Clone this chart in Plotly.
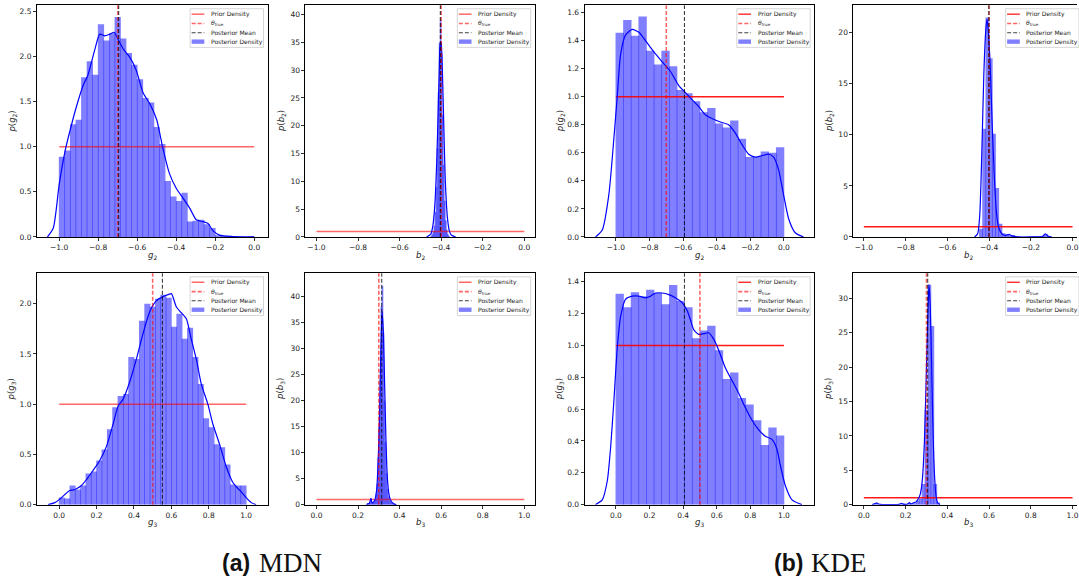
import numpy as np
import plotly.graph_objects as go

W, H = 1079, 583

# ---------------- data ----------------
# parameter order: g2, b2, g3, b3
theta_true = [-0.70, -0.40, 0.50, 0.30]
mdn_post_mean = [-0.695, -0.404, 0.552, 0.314]
kde_post_mean = [-0.592, -0.401, 0.408, 0.306]
prior_low = [-1.0, -1.0, 0.0, 0.0]
prior_high = [0.0, 0.0, 1.0, 1.0]
prior_density = 1.0

# histogram: (first edge, last edge, number of bins) and densities
mdn_g2_bins = (-1.0, 0.0, 35)
mdn_g2_hist = [0.89, 0.96, 1.25, 1.30, 1.77, 1.95, 1.80, 2.36, 2.18, 2.26, 2.44, 2.20, 2.04, 1.91,
               1.75, 1.54, 1.49, 1.22, 1.03, 0.62, 0.45, 0.40, 0.49, 0.17, 0.18, 0.19, 0.14, 0.10,
               0.02, 0.01, 0.01, 0.005, 0.005, 0.0, 0.005]
mdn_g2_kde_x = [-1.06, -1.03, -1.0, -0.97, -0.942, -0.911, -0.877, -0.852, -0.817, -0.792, -0.766,
                -0.74, -0.718, -0.695, -0.67, -0.64, -0.605, -0.57, -0.536, -0.5, -0.468, -0.434,
                -0.4, -0.365, -0.331, -0.297, -0.263, -0.237, -0.212, -0.178, -0.11, 0.0]
mdn_g2_kde_y = [0.0, 0.1, 0.58, 0.95, 1.2, 1.45, 1.68, 1.80, 2.08, 2.25, 2.23, 2.25, 2.27, 2.18, 2.08,
                2.0, 1.85, 1.6, 1.48, 1.3, 0.98, 0.7, 0.54, 0.43, 0.32, 0.19, 0.17, 0.15, 0.07, 0.02,
                0.005, 0.0]

mdn_b2_bins = (-0.45, -0.36, 18)
mdn_b2_hist = [0.2, 0.5, 1.0, 2.0, 4.5, 9, 16, 26, 35, 39, 33, 22, 13, 6.5, 3, 1.3, 0.5, 0.2]
mdn_b2_kde_x = [-0.47, -0.45, -0.44, -0.43, -0.42, -0.415, -0.41, -0.405, -0.40, -0.395, -0.39,
                -0.385, -0.38, -0.37, -0.36, -0.35, -0.33]
mdn_b2_kde_y = [0, 0.5, 2.0, 6.0, 15, 22, 29, 34.5, 35, 31, 24, 16.5, 10, 3.5, 1.0, 0.3, 0]

kde_g2_bins = (-1.0, 0.0, 22)
kde_g2_hist = [1.456, 1.548, 1.435, 1.572, 1.329, 1.23, 1.329, 1.218, 1.049, 1.025, 0.968, 0.89,
               0.92, 0.81, 0.78, 0.83, 0.70, 0.57, 0.57, 0.61, 0.60, 0.64]
kde_g2_kde_x = [-1.121, -1.081, -1.042, -1.012, -0.992, -0.972, -0.943, -0.903, -0.863, -0.824,
                -0.774, -0.725, -0.675, -0.626, -0.586, -0.547, -0.507, -0.467, -0.428, -0.378,
                -0.329, -0.289, -0.25, -0.21, -0.17, -0.131, -0.091, -0.061, -0.032, -0.002,
                0.028, 0.067, 0.117]
kde_g2_kde_y = [0, 0.05, 0.3, 0.7, 1.0, 1.3, 1.44, 1.48, 1.46, 1.40, 1.32, 1.25, 1.18, 1.08, 1.03,
                0.98, 0.93, 0.87, 0.845, 0.82, 0.80, 0.74, 0.66, 0.59, 0.57, 0.58, 0.59, 0.57,
                0.48, 0.30, 0.13, 0.03, 0]

kde_b2_bins = (-0.4465, -0.1055, 22)
kde_b2_hist = [0.8, 10.6, 21.5, 17.5, 10.1, 4.8, 1.3, 0.35, 0.25, 0.15, 0.2, 0.1, 0.05, 0.03, 0.03,
               0.03, 0.03, 0.03, 0.05, 0.1, 0.25, 0.1]
kde_b2_kde_x = [-0.47, -0.455, -0.445, -0.435, -0.425, -0.415, -0.41, -0.405, -0.395, -0.385,
                -0.375, -0.365, -0.355, -0.345, -0.335, -0.32, -0.305, -0.29, -0.27, -0.2,
                -0.145, -0.13, -0.115, -0.1]
kde_b2_kde_y = [0, 0.3, 2, 8, 16, 20.5, 21.3, 20.5, 17, 11, 6, 2.5, 1.0, 0.5, 0.25, 0.15, 0.25,
                0.1, 0.02, 0.0, 0.05, 0.3, 0.05, 0]

mdn_g3_bins = (0.0, 1.0, 35)
mdn_g3_hist = [0.07, 0.06, 0.19, 0.15, 0.19, 0.31, 0.33, 0.44, 0.55, 0.75, 0.97, 1.08, 1.10, 1.47,
               1.45, 1.83, 2.00, 1.97, 2.05, 2.09, 2.06, 1.77, 1.90, 1.65, 1.76, 1.47, 1.20, 0.86,
               0.77, 0.60, 0.57, 0.40, 0.20, 0.19, 0.19]
mdn_g3_kde_x = [-0.059, -0.023, 0.0, 0.03, 0.057, 0.084, 0.119, 0.146, 0.181, 0.217, 0.253, 0.288,
                0.315, 0.342, 0.377, 0.413, 0.448, 0.484, 0.52, 0.555, 0.582, 0.6, 0.626, 0.653,
                0.68, 0.706, 0.733, 0.76, 0.795, 0.822, 0.858, 0.893, 0.929, 0.956, 0.973, 1.0,
                1.027, 1.053]
mdn_g3_kde_y = [0, 0.02, 0.05, 0.10, 0.14, 0.15, 0.19, 0.25, 0.34, 0.44, 0.58, 0.80, 0.98, 1.05,
                1.22, 1.45, 1.70, 1.92, 2.03, 2.07, 2.09, 2.10, 1.97, 1.91, 1.85, 1.65, 1.45, 1.20,
                1.0, 0.80, 0.60, 0.38, 0.22, 0.16, 0.13, 0.07, 0.02, 0]

mdn_b3_bins = (0.245, 0.38, 27)
mdn_b3_hist = [0.3, 0.2, 0.4, 1.2, 0.3, 0.4, 0.6, 1.0, 2.0, 4.0, 9, 15, 24, 38, 42, 33, 20, 12, 6,
               3, 1.5, 0.8, 0.5, 0.3, 0.2, 0.1, 0.1]
mdn_b3_kde_x = [0.24, 0.255, 0.262, 0.268, 0.28, 0.29, 0.30, 0.305, 0.31, 0.316, 0.322, 0.328,
                0.334, 0.34, 0.347, 0.355, 0.365, 0.375, 0.385]
mdn_b3_kde_y = [0, 0.3, 1.2, 0.3, 0.8, 3, 12, 20, 30, 37, 33, 23, 13, 6, 2.5, 1, 0.4, 0.1, 0]

kde_g3_bins = (0.0, 1.0, 22)
kde_g3_hist = [1.325, 1.24, 1.335, 1.31, 1.35, 1.33, 1.26, 1.38, 1.28, 1.24, 1.045, 1.095, 1.125,
               0.97, 0.79, 0.83, 0.67, 0.63, 0.53, 0.375, 0.485, 0.435]
kde_g3_kde_x = [-0.121, -0.081, -0.051, -0.032, -0.012, 0.008, 0.028, 0.057, 0.097, 0.137, 0.176,
                0.206, 0.236, 0.275, 0.315, 0.354, 0.394, 0.424, 0.444, 0.463, 0.493, 0.523,
                0.552, 0.582, 0.612, 0.651, 0.691, 0.731, 0.770, 0.810, 0.850, 0.889, 0.929,
                0.958, 0.978, 1.008, 1.048, 1.107]
kde_g3_kde_y = [0, 0.03, 0.15, 0.35, 0.65, 0.98, 1.18, 1.29, 1.31, 1.31, 1.30, 1.31, 1.33, 1.33,
                1.32, 1.30, 1.27, 1.22, 1.16, 1.10, 1.07, 1.075, 1.08, 1.04, 0.97, 0.86, 0.78,
                0.70, 0.61, 0.53, 0.47, 0.43, 0.41, 0.35, 0.25, 0.12, 0.03, 0]

kde_b3_bins = (0.0534, 0.3636, 22)
kde_b3_hist = [0.2, 0.03, 0.03, 0.03, 0.03, 0.03, 0.03, 0.03, 0.03, 0.15, 0.05, 0.15, 0.1, 0.2,
               0.6, 0.9, 3.0, 13.8, 32, 26, 3.0, 0.3]
kde_b3_kde_x = [0.04, 0.055, 0.062, 0.07, 0.09, 0.17, 0.18, 0.19, 0.21, 0.218, 0.226, 0.24, 0.25,
                0.26, 0.27, 0.28, 0.29, 0.30, 0.307, 0.312, 0.318, 0.325, 0.332, 0.34, 0.347,
                0.355, 0.365]
kde_b3_kde_y = [0, 0.15, 0.25, 0.1, 0.02, 0.05, 0.2, 0.05, 0.1, 0.3, 0.1, 0.3, 0.4, 0.8, 1.5, 3.5,
                9, 20, 28, 32, 29, 20, 10, 3.5, 1.0, 0.2, 0]

# tick labels
xt_neg = [-1.0, -0.8, -0.6, -0.4, -0.2, 0.0]
xt_neg_text = ["\u22121.0", "\u22120.8", "\u22120.6", "\u22120.4", "\u22120.2", "0.0"]
xt_pos = [0.0, 0.2, 0.4, 0.6, 0.8, 1.0]
xt_pos_text = ["0.0", "0.2", "0.4", "0.6", "0.8", "1.0"]
yt_mdn_g2 = [0.0, 0.5, 1.0, 1.5, 2.0, 2.5]
yt_mdn_g3 = [0.0, 0.5, 1.0, 1.5, 2.0]
yt_kde_g2 = [0.0, 0.2, 0.4, 0.6, 0.8, 1.0, 1.2, 1.4, 1.6]
yt_kde_g3 = [0.0, 0.2, 0.4, 0.6, 0.8, 1.0, 1.2, 1.4]
yt_b_40 = [0, 5, 10, 15, 20, 25, 30, 35, 40]
yt_b_20 = [0, 5, 10, 15, 20]
yt_b_30 = [0, 5, 10, 15, 20, 25, 30]

captions = [("(a)", "MDN"), ("(b)", "KDE")]

# ---------------- layout geometry (pixels) ----------------
col_left = [37, 306, 585.7, 855]
col_right = [268, 535.7, 815.7, 1085]
row_top = [5.3, 275.7]
row_bottom = [239, 509]

def fmt1(v):
    return f"{v:.1f}"

panels = [
    dict(r=0, c=0, h=mdn_g2_hist, b=mdn_g2_bins, kx=mdn_g2_kde_x, ky=mdn_g2_kde_y, p=0, m="mdn",
         xr=[-1.114, 0.068], yr=[0, 2.570], xt=xt_neg, xtt=xt_neg_text, yt=yt_mdn_g2, yf=fmt1, s="g", n="2"),
    dict(r=0, c=1, h=mdn_b2_hist, b=mdn_b2_bins, kx=mdn_b2_kde_x, ky=mdn_b2_kde_y, p=1, m="mdn",
         xr=[-1.053, 0.05], yr=[0, 41.68], xt=xt_neg, xtt=xt_neg_text, yt=yt_b_40, yf=str, s="b", n="2"),
    dict(r=0, c=2, h=kde_g2_hist, b=kde_g2_bins, kx=kde_g2_kde_x, ky=kde_g2_kde_y, p=0, m="kde",
         xr=[-1.186, 0.18], yr=[0, 1.6527], xt=xt_neg, xtt=xt_neg_text, yt=yt_kde_g2, yf=fmt1, s="g", n="2"),
    dict(r=0, c=3, h=kde_b2_hist, b=kde_b2_bins, kx=kde_b2_kde_x, ky=kde_b2_kde_y, p=1, m="kde",
         xr=[-1.05, 0.05], yr=[0, 22.69], xt=xt_neg, xtt=xt_neg_text, yt=yt_b_20, yf=str, s="b", n="2"),
    dict(r=1, c=0, h=mdn_g3_hist, b=mdn_g3_bins, kx=mdn_g3_kde_x, ky=mdn_g3_kde_y, p=2, m="mdn",
         xr=[-0.119, 1.114], yr=[0, 2.302], xt=xt_pos, xtt=xt_pos_text, yt=yt_mdn_g3, yf=fmt1, s="g", n="3"),
    dict(r=1, c=1, h=mdn_b3_hist, b=mdn_b3_bins, kx=mdn_b3_kde_x, ky=mdn_b3_kde_y, p=3, m="mdn",
         xr=[-0.053, 1.05], yr=[0, 44.37], xt=xt_pos, xtt=xt_pos_text, yt=yt_b_40, yf=str, s="b", n="3"),
    dict(r=1, c=2, h=kde_g3_hist, b=kde_g3_bins, kx=kde_g3_kde_x, ky=kde_g3_kde_y, p=2, m="kde",
         xr=[-0.186, 1.18], yr=[0, 1.4536], xt=xt_pos, xtt=xt_pos_text, yt=yt_kde_g3, yf=fmt1, s="g", n="3"),
    dict(r=1, c=3, h=kde_b3_hist, b=kde_b3_bins, kx=kde_b3_kde_x, ky=kde_b3_kde_y, p=3, m="kde",
         xr=[-0.05, 1.05], yr=[0, 33.65], xt=xt_pos, xtt=xt_pos_text, yt=yt_b_30, yf=str, s="b", n="3"),
]

PRIOR_STYLE = {"mdn": dict(color="rgba(255,0,0,0.6)", width=1.5),
               "kde": dict(color="rgba(255,0,0,0.9)", width=1.3)}
THETA_STYLE = dict(color="rgba(255,0,0,0.6)", width=1.6, dash="4px,2px")
MEAN_STYLE = dict(color="rgba(0,0,0,0.75)", width=1.1, dash="4px,2px")
BAR_COL = "rgba(0,0,255,0.5)"
KDE_COL = "#0000ff"
TICK_FONT = dict(family="DejaVu Sans", size=7.5, color="#222222")

def px2x(px):
    return px / W

def py2y(py):
    return 1 - py / H

fig = go.Figure()
layout = dict(width=W, height=H, margin=dict(l=0, r=0, t=0, b=0), autosize=False,
              paper_bgcolor="white", plot_bgcolor="white", barmode="overlay", showlegend=False,
              hovermode=False)
shapes = []
annotations = []

for k, P in enumerate(panels):
    idx = k + 1
    xid = "x" if idx == 1 else f"x{idx}"
    yid = "y" if idx == 1 else f"y{idx}"
    L, R = col_left[P["c"]], col_right[P["c"]]
    T, B = row_top[P["r"]], row_bottom[P["r"]]
    px_per_unit = (R - L) / (P["xr"][1] - P["xr"][0])
    Rvis = min(R, W)
    xr = [P["xr"][0], P["xr"][0] + (Rvis - L) / px_per_unit]
    clipped = R > W

    layout["xaxis" if idx == 1 else f"xaxis{idx}"] = dict(
        domain=[L / W, Rvis / W], range=xr, anchor=yid, showline=True, linecolor="black",
        linewidth=1, mirror=True, ticks="outside", ticklen=3, tickwidth=0.8, tickcolor="black",
        tickvals=P["xt"], ticktext=P["xtt"], tickfont=TICK_FONT, showgrid=False, zeroline=False,
        ticklabeloverflow="allow", fixedrange=True)
    layout["yaxis" if idx == 1 else f"yaxis{idx}"] = dict(
        domain=[py2y(B), py2y(T)], range=P["yr"], anchor=xid, showline=True, linecolor="black",
        linewidth=1, mirror=(not clipped), ticks="outside", ticklen=3, tickwidth=0.8,
        tickcolor="black", tickvals=P["yt"], ticktext=[P["yf"](v) for v in P["yt"]],
        tickfont=TICK_FONT, showgrid=False, zeroline=False, fixedrange=True)

    lo, hi, nb = P["b"]
    bw = (hi - lo) / nb
    centers = lo + bw * (np.arange(nb) + 0.5)
    fig.add_trace(go.Bar(x=centers, y=P["h"], width=[bw + 0.7 / px_per_unit] * nb,
                         marker=dict(color=BAR_COL, line=dict(width=0)),
                         xaxis=xid, yaxis=yid, hoverinfo="skip"))
    p = P["p"]
    fig.add_trace(go.Scatter(x=[prior_low[p], prior_high[p]], y=[prior_density, prior_density],
                             mode="lines", line=PRIOR_STYLE[P["m"]],
                             xaxis=xid, yaxis=yid, hoverinfo="skip"))
    fig.add_trace(go.Scatter(x=P["kx"], y=P["ky"], mode="lines",
                             line=dict(color=KDE_COL, width=1.2, shape="spline", smoothing=0.6),
                             xaxis=xid, yaxis=yid, hoverinfo="skip"))
    mean_v = mdn_post_mean[p] if P["m"] == "mdn" else kde_post_mean[p]
    shapes.append(dict(type="line", xref=xid, yref=f"{yid} domain", x0=theta_true[p], x1=theta_true[p],
                       y0=0, y1=1, line=THETA_STYLE, layer="above"))
    shapes.append(dict(type="line", xref=xid, yref=f"{yid} domain", x0=mean_v, x1=mean_v,
                       y0=0, y1=1, line=MEAN_STYLE, layer="above"))

    # axis titles
    sym, sub = P["s"], P["n"]
    annotations.append(dict(text=f"<i>{sym}</i><sub>{sub}</sub>", xref="paper", yref="paper",
                            x=px2x((L + R) / 2), y=py2y(B + 18.5), xanchor="center", yanchor="middle",
                            showarrow=False, font=dict(family="DejaVu Sans", size=8.5, color="#222222")))
    annotations.append(dict(text=f"<i>p</i>(<i>{sym}</i><sub>{sub}</sub>)", xref="paper", yref="paper",
                            x=px2x(L - 24.5), y=py2y((T + B) / 2), xanchor="center", yanchor="middle",
                            textangle=-90, showarrow=False,
                            font=dict(family="DejaVu Sans", size=8.5, color="#222222")))

    # legend box
    shapes.append(dict(type="rect", xref="paper", yref="paper", x0=px2x(R - 77.5), x1=px2x(R - 4),
                       y0=py2y(T + 42.5), y1=py2y(T + 3.5), fillcolor="rgba(255,255,255,0.85)",
                       line=dict(color="#cccccc", width=0.8), layer="above"))
    dys = [9, 18.4, 27.7, 36.7]
    styles = [PRIOR_STYLE[P["m"]], THETA_STYLE, MEAN_STYLE]
    for dy, st in zip(dys[:3], styles):
        shapes.append(dict(type="line", xref="paper", yref="paper", x0=px2x(R - 76), x1=px2x(R - 63.3),
                           y0=py2y(T + dy), y1=py2y(T + dy), line=st, layer="above"))
    shapes.append(dict(type="rect", xref="paper", yref="paper", x0=px2x(R - 76), x1=px2x(R - 63.3),
                       y0=py2y(T + dys[3] + 2.2), y1=py2y(T + dys[3] - 2.2), fillcolor=BAR_COL,
                       line=dict(width=0), layer="above"))
    labels = ["Prior Density", "<i>\u03b8</i><sub>true</sub>", "Posterior Mean", "Posterior Density"]
    for dy, lab in zip(dys, labels):
        annotations.append(dict(text=lab, xref="paper", yref="paper", x=px2x(R - 58.7), y=py2y(T + dy),
                                xanchor="left", yanchor="middle", showarrow=False,
                                font=dict(family="DejaVu Sans", size=6, color="#222222")))

# captions
cap_anchor = [(252.5, 257), (806.5, 811)]
for (tag, name), (xr_, xl_) in zip(captions, cap_anchor):
    annotations.append(dict(text=f"<b>{tag}</b>", xref="paper", yref="paper", x=px2x(xr_), y=py2y(568),
                            xanchor="right", yanchor="middle", showarrow=False,
                            font=dict(family="Liberation Sans", size=23, color="#111111")))
    annotations.append(dict(text=name, xref="paper", yref="paper", x=px2x(xl_), y=py2y(568),
                            xanchor="left", yanchor="middle", showarrow=False,
                            font=dict(family="Liberation Serif", size=27, color="#111111")))

layout["shapes"] = shapes
layout["annotations"] = annotations
fig.update_layout(**layout)
fig.write_html("out.html", config={"displayModeBar": False, "staticPlot": True},
               post_script="document.body.style.margin='0px';document.body.style.overflow='hidden';")
